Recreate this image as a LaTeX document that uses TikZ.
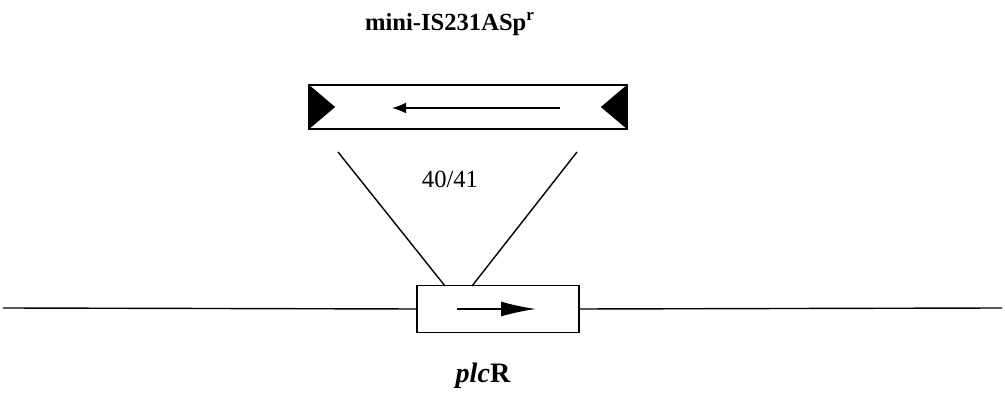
\documentclass[tikz,border=0pt]{standalone}
\usepackage{fontspec}
\setmainfont{Liberation Serif}
\usetikzlibrary{positioning, arrows.meta}

\begin{document}
\begin{tikzpicture}[
    x=0.02cm, y=-0.02cm,
    element/.style={rectangle, draw, line width=1pt, minimum width=6.36cm, minimum height=0.88cm, inner sep=0pt},
    gene/.style={rectangle, draw, line width=1pt, fill=white, minimum width=3.24cm, minimum height=0.94cm, inner sep=0pt},
    invrep/.style={fill=black},
    dna/.style={line width=0.8pt},
    arrow/.style={-{Latex[length=0.28cm, width=0.22cm]}, line width=0.9pt},
    genearrow/.style={-{Latex[length=0.7cm, width=0.3cm]}, line width=0.9pt}
  ]
    \useasboundingbox (0,0) rectangle (1005,394);

    % transposon and its label
    \node[font=\fontsize{14}{17}\selectfont\bfseries] (title) at (450,24) {mini-IS231ASp\textsuperscript{r}};
    \node[element] (tn) at (468,107) {};
    \fill[invrep] (tn.north west) -- ([xshift=0.54cm]tn.west) -- (tn.south west) -- cycle;
    \fill[invrep] (tn.north east) -- ([xshift=-0.54cm]tn.east) -- (tn.south east) -- cycle;
    \coordinate (tnhead) at (392,108);
    \coordinate (tntail) at (560,108);
    \draw[arrow] (tntail) -- (tnhead);

    % chromosome with plcR
    \coordinate (dnaleft) at (3,308);
    \coordinate (dnaright) at (1002,308);
    \node[gene] (plcr) at (498,309) {};
    \draw[dna] (dnaleft) -- (plcr.west);
    \draw[dna] (plcr.east) -- (dnaright);
    \coordinate (genetail) at (457,309);
    \coordinate (genehead) at (536,309);
    \draw[genearrow] (genetail) -- (genehead);
    \node[font=\fontsize{16}{19}\selectfont\bfseries] (plcrlabel) at (483,376) {\textit{plc}R};

    % insertion site
    \coordinate (insl) at (338,152);
    \coordinate (insr) at (577,152);
    \coordinate (sitel) at (445,286);
    \coordinate (siter) at (472,286);
    \draw[dna] (insl) -- (sitel);
    \draw[dna] (insr) -- (siter);
    \node[font=\fontsize{14}{17}\selectfont] (site) at (450,179) {40/41};
  \end{tikzpicture}
\end{document}
